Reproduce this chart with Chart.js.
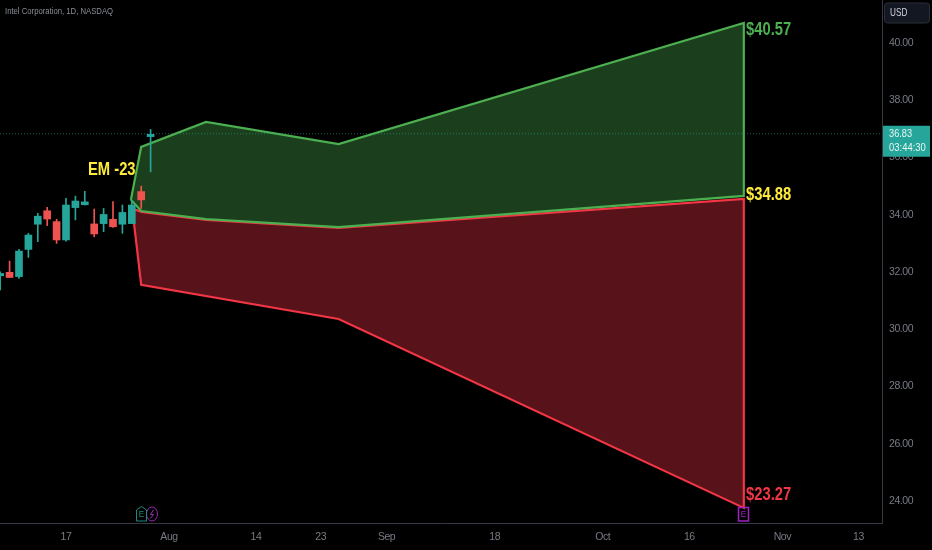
<!DOCTYPE html>
<html>
<head>
<meta charset="utf-8">
<style>html,body{margin:0;padding:0;background:#000;overflow:hidden}canvas{display:block}</style>
<script src="https://cdn.jsdelivr.net/npm/chart.js@4"></script>
</head>
<body>
<canvas id="c" width="932" height="550"></canvas>
<script>
const candleX     = [-7,-6,-5,-4,-3,-2,-1,0,1,2,3,4,5,6,7,8,9];
const candleOpen  = [31.87,31.99,31.84,32.79,33.67,34.14,33.76,33.12,34.25,34.35,33.68,33.69,33.84,33.67,33.69,34.81,36.73];
const candleClose = [31.95,31.81,32.73,33.29,33.95,33.85,33.12,34.34,34.48,34.45,33.33,34.01,33.58,34.08,34.34,34.52,36.81];
const candleHigh  = [32.01,32.38,32.79,33.35,34.05,34.26,33.84,34.57,34.65,34.82,34.20,34.22,34.46,34.34,34.50,35.00,36.98];
const candleLow   = [31.37,31.81,31.78,32.51,33.06,33.62,33.00,33.08,33.82,34.34,33.23,33.41,33.56,33.35,33.69,34.22,35.50];

const greenX = [6.9,8.0,14.9,29.0,72.1,72.1,29.0,14.9,8.0,6.9];
const greenY = [34.52,36.37,37.24,36.47,40.70,34.66,33.57,33.85,34.13,34.52];
const redX   = [7.2,8.0,14.9,29.0,72.1,72.1,29.0,8.0,7.2,7.2];
const redY   = [34.20,34.10,33.82,33.54,34.55,23.76,30.36,31.55,33.80,34.20];

const xTickPos    = [0,10.96,20.2,27.1,34.1,45.6,57.1,66.3,76.2,84.3];
const xTickLabels = ['17','Aug','14','23','Sep','18','Oct','16','Nov','13'];
const yTicks      = [24,26,28,30,32,34,36,38,40];

const lastPrice = 36.83;
const countdown = '03:44:30';
const title = 'Intel Corporation, 1D, NASDAQ';
const noteText  = ['$40.57','$34.88','$23.27','EM -23'];
const noteX     = [72.34,72.34,72.34,2.34];
const noteY     = [40.45,34.69,24.21,35.56];
const noteColor = ['#4caf50','#ffeb3b','#f23645','#ffeb3b'];

const FONT = '"Liberation Sans",sans-serif';
const up = i => candleClose[i] >= candleOpen[i];
const candleColors = candleX.map((_, i) => up(i) ? '#26a69a' : '#ef5350');

function squeezed(ctx, text, px, py, font, sx, color, align) {
  ctx.save();
  ctx.translate(px, py);
  ctx.scale(sx, 1);
  ctx.font = font;
  ctx.fillStyle = color;
  ctx.textAlign = align || 'left';
  ctx.textBaseline = 'middle';
  ctx.fillText(text, 0, 0);
  ctx.restore();
}

const noPad = s => { s.paddingTop = s.paddingBottom = s.paddingLeft = s.paddingRight = 0; };

const overlay = {
  id: 'overlay',
  beforeDraw(chart) { chart.ctx.letterSpacing = '-0.45px'; },
  afterDatasetsDraw(chart) {
    const { ctx, scales: { x, y }, chartArea: a } = chart;
    ctx.save();
    ctx.letterSpacing = '0px';
    const py = y.getPixelForValue(lastPrice);
    ctx.strokeStyle = 'rgba(38,166,154,0.55)';
    ctx.lineWidth = 1;
    ctx.setLineDash([1, 2]);
    ctx.beginPath(); ctx.moveTo(a.left, py); ctx.lineTo(a.right, py); ctx.stroke();
    ctx.setLineDash([]);
    noteText.forEach((t, i) => {
      squeezed(ctx, t, x.getPixelForValue(noteX[i]), y.getPixelForValue(noteY[i]),
        'bold 18px ' + FONT, 0.82, noteColor[i]);
    });
    squeezed(ctx, title, 5, 12, '9px ' + FONT, 0.857, '#8a8d96');
    ctx.fillStyle = '#26a69a';
    ctx.fillRect(883, py - 8, 47, 31);
    squeezed(ctx, String(lastPrice), 889, py + 0.5, '11px ' + FONT, 0.84, '#e8f5f3');
    squeezed(ctx, countdown, 889, py + 14.5, '11px ' + FONT, 0.86, '#e8f5f3');
    ctx.fillStyle = '#131722';
    ctx.strokeStyle = '#2a2e39';
    ctx.beginPath(); ctx.roundRect(884.5, 3, 45, 20, 3); ctx.fill(); ctx.stroke();
    squeezed(ctx, 'USD', 890, 13.5, '10.5px ' + FONT, 0.78, '#d1d4dc');
    ctx.lineWidth = 1;
    ctx.strokeStyle = '#9c27b0';
    ctx.beginPath(); ctx.ellipse(152, 514, 5.5, 7, 0, 0, Math.PI * 2); ctx.stroke();
    ctx.beginPath();
    ctx.moveTo(153.5, 510); ctx.lineTo(150.5, 514.5); ctx.lineTo(153.5, 514.5); ctx.lineTo(150.5, 518.5);
    ctx.stroke();
    ctx.strokeStyle = '#1f8a80';
    ctx.fillStyle = '#000';
    ctx.beginPath();
    ctx.moveTo(136.5, 521); ctx.lineTo(136.5, 510); ctx.lineTo(141.5, 506.5);
    ctx.lineTo(146.5, 510); ctx.lineTo(146.5, 521); ctx.closePath(); ctx.fill(); ctx.stroke();
    squeezed(ctx, 'E', 141.5, 515, '9px ' + FONT, 0.9, '#1f8a80', 'center');
    ctx.strokeStyle = '#a020c0'; ctx.lineWidth = 1.5;
    ctx.strokeRect(738.5, 507.5, 10, 13.5);
    squeezed(ctx, 'E', 743.5, 514.5, '9px ' + FONT, 0.9, '#a020c0', 'center');
    ctx.restore();
  }
};

new Chart(document.getElementById('c'), {
  type: 'bar',
  plugins: [overlay],
  data: {
    datasets: [
      { type: 'bar', order: 1, grouped: false, barThickness: 7,
        data: candleX.map((v, i) => ({ x: v, y: [candleOpen[i], candleClose[i]] })),
        backgroundColor: candleColors },
      { type: 'bar', order: 2, grouped: false, barThickness: 1,
        data: candleX.map((v, i) => ({ x: v, y: [candleLow[i], candleHigh[i]] })),
        backgroundColor: candleColors },
      { type: 'line', order: 4, fill: 'shape', tension: 0, pointRadius: 0, borderWidth: 2.2,
        data: redX.map((v, i) => ({ x: v, y: redY[i] })),
        borderColor: '#f23645', backgroundColor: 'rgba(242,54,69,0.36)' },
      { type: 'line', order: 3, fill: 'shape', tension: 0, pointRadius: 0, borderWidth: 2.2,
        data: greenX.map((v, i) => ({ x: v, y: greenY[i] })),
        borderColor: '#4caf50', backgroundColor: 'rgba(76,175,80,0.36)' }
    ]
  },
  options: {
    responsive: false,
    animation: false,
    devicePixelRatio: 1,
    layout: { padding: 0, autoPadding: false },
    plugins: { legend: { display: false }, tooltip: { enabled: false } },
    scales: {
      x: {
        type: 'linear', offset: false,
        min: -7.02, max: 86.8,
        grid: { display: false, drawTicks: false },
        border: { display: true, color: '#363a45' },
        afterBuildTicks: s => { s.ticks = xTickPos.map(v => ({ value: v })); },
        afterFit: s => { s.height = 27; noPad(s); },
        ticks: {
          autoSkip: false, maxRotation: 0, padding: 8, color: '#787b86',
          font: { family: FONT, size: 10.5 },
          callback: v => xTickLabels[xTickPos.indexOf(v)]
        }
      },
      y: {
        type: 'linear', position: 'right',
        min: 23.232, max: 41.502,
        grid: { display: false, drawTicks: false },
        border: { display: true, color: '#363a45' },
        afterBuildTicks: s => { s.ticks = yTicks.map(v => ({ value: v })); },
        afterFit: s => { s.width = 50; noPad(s); },
        ticks: {
          autoSkip: false, padding: 7, color: '#787b86',
          font: { family: FONT, size: 10.5 },
          callback: v => v.toFixed(2)
        }
      }
    }
  }
});
</script>
</body>
</html>
